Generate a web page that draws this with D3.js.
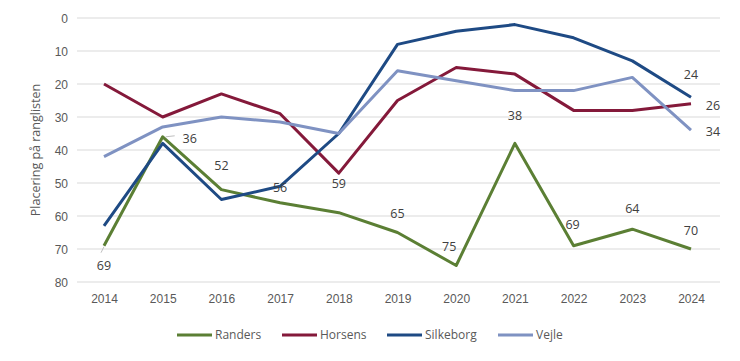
<!DOCTYPE html>
<meta charset="utf-8">
<style>
body { margin: 0; background: #fff; }
svg { font-family: "Open Sans", "Noto Sans", sans-serif; }
.grid line { stroke: #d9d9d9; stroke-width: 1px; }
.tick text { fill: #595959; font-size: 12px; }
.lbl { fill: #404040; font-size: 12.5px; }
</style>
<svg width="740" height="361"></svg>
<script src="https://d3js.org/d3.v7.min.js"></script>
<script>

var years = [2014, 2015, 2016, 2017, 2018, 2019, 2020, 2021, 2022, 2023, 2024];
var randers   = [69, 36, 52, 56, 59, 65, 75, 38, 69, 64, 70];
var horsens   = [20, 30, 23, 29, 47, 25, 15, 17, 28, 28, 26];
var silkeborg = [63, 38, 55, 51, 35, 8, 4, 2, 6, 13, 24];
var vejle     = [42, 33, 30, 31.5, 35, 16, 19, 22, 22, 18, 34];
var yTicks = [0, 10, 20, 30, 40, 50, 60, 70, 80];

var series = [
  {name: "Randers", values: randers, color: "#5b7f34"},
  {name: "Horsens", values: horsens, color: "#84193a"},
  {name: "Silkeborg", values: silkeborg, color: "#1e4a84"},
  {name: "Vejle", values: vejle, color: "#7f92c2"}
];

// which points get a value label, and where it sits (dx, dy from point)
var labels = [
  {s: 0, i: 0, dx: 0, dy: 24}, {s: 0, i: 1, dx: 27, dy: 6}, {s: 0, i: 2, dx: 0, dy: -20},
  {s: 0, i: 3, dx: 0, dy: -11}, {s: 0, i: 4, dx: 0, dy: -25}, {s: 0, i: 5, dx: 0, dy: -15},
  {s: 0, i: 6, dx: -7, dy: -15}, {s: 0, i: 7, dx: 0, dy: -23}, {s: 0, i: 8, dx: -1, dy: -17},
  {s: 0, i: 9, dx: 0, dy: -16}, {s: 0, i: 10, dx: 0, dy: -14},
  {s: 2, i: 10, dx: 0, dy: -18}, {s: 1, i: 10, dx: 22, dy: 6}, {s: 3, i: 10, dx: 22, dy: 6}
];

var svg = d3.select("svg");
var margin = {left: 77, right: 20, top: 18, bottom: 79};
var width = 740, height = 361;

var x = d3.scalePoint().domain(years).range([104, 691]);
var y = d3.scaleLinear().domain([0, 80]).range([margin.top, height - margin.bottom]);

svg.append("g")
    .attr("class", "grid")
  .selectAll("line")
  .data(yTicks)
  .enter().append("line")
    .attr("x1", margin.left).attr("x2", width - margin.right)
    .attr("y1", function(d) { return y(d); }).attr("y2", function(d) { return y(d); });

var yAxis = svg.append("g")
    .attr("transform", "translate(68,0)")
    .call(d3.axisLeft(y).tickValues(yTicks).tickSize(0).tickPadding(0));
yAxis.select(".domain").remove();
yAxis.selectAll("text").attr("dy", "0.35em");

var xAxis = svg.append("g")
    .attr("transform", "translate(0," + (y(80) + 10) + ")")
    .call(d3.axisBottom(x).tickSize(0).tickPadding(0).tickFormat(d3.format("d")));
xAxis.select(".domain").remove();
xAxis.selectAll("text").attr("dy", "0.9em");

svg.append("text")
    .attr("transform", "translate(40," + y(40) + ") rotate(-90)")
    .attr("text-anchor", "middle")
    .style("fill", "#595959")
    .style("font-size", "12.5px")
    .text("Placering på ranglisten");

var line = d3.line()
    .x(function(d, i) { return x(years[i]); })
    .y(function(d) { return y(d); });

svg.append("g")
  .selectAll("path")
  .data(series)
  .enter().append("path")
    .attr("fill", "none")
    .attr("stroke", function(d) { return d.color; })
    .attr("stroke-width", 3)
    .attr("stroke-linejoin", "round")
    .attr("d", function(d) { return line(d.values); });

// small leader lines as in the original
svg.append("line")
    .attr("x1", x(2014)).attr("y1", y(69) + 1).attr("x2", x(2014) - 3).attr("y2", y(69) + 7)
    .attr("stroke", "#bfbfbf");
svg.append("line")
    .attr("x1", x(2015) + 3).attr("y1", y(36)).attr("x2", x(2015) + 12).attr("y2", y(36) - 1)
    .attr("stroke", "#bfbfbf");

svg.append("g")
  .selectAll("text")
  .data(labels)
  .enter().append("text")
    .attr("class", "lbl")
    .attr("text-anchor", "middle")
    .attr("x", function(d) { return x(years[d.i]) + d.dx; })
    .attr("y", function(d) { return y(series[d.s].values[d.i]) + d.dy; })
    .text(function(d) { return series[d.s].values[d.i]; });

var legendX = [177, 282, 387, 498];
var legend = svg.append("g")
  .selectAll("g")
  .data(series)
  .enter().append("g")
    .attr("transform", function(d, i) { return "translate(" + legendX[i] + ",335)"; });
legend.append("line")
    .attr("x1", 0).attr("x2", 35)
    .attr("stroke", function(d) { return d.color; })
    .attr("stroke-width", 3);
legend.append("text")
    .attr("x", 38).attr("dy", "0.35em")
    .style("fill", "#595959")
    .style("font-size", "12px")
    .text(function(d) { return d.name; });

</script>
